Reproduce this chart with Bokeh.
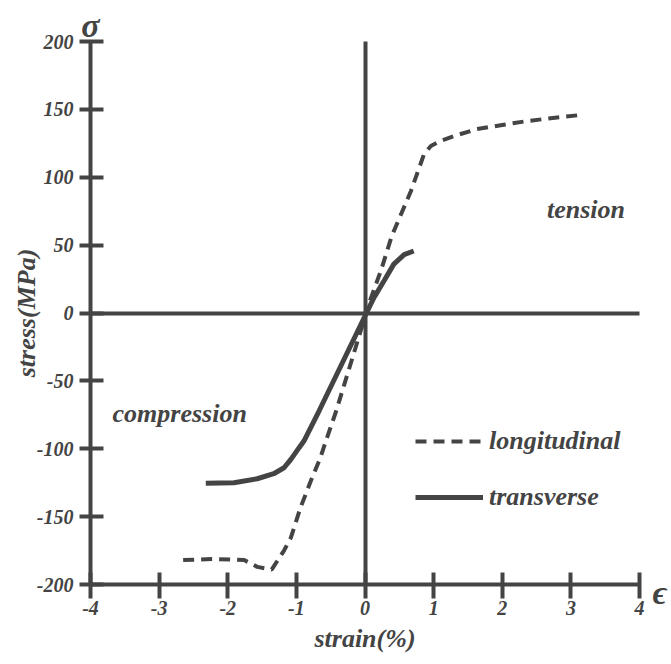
from bokeh.plotting import figure
from bokeh.models import Range1d, Label, Legend, LegendItem, FixedTicker, LinearAxis
from bokeh.embed import file_html
from bokeh.resources import INLINE

# ---- data ----
long_strain = [-2.65, -2.2, -1.76, -1.57, -1.36, -1.18, -1.08, -0.94, -0.79, -0.65, -0.57, -0.42,
               -0.13, 0.06, 0.23, 0.39, 0.67, 0.86, 0.96, 1.10, 1.30, 1.63, 2.0, 2.36, 2.8, 3.15]
long_stress = [-182, -181.2, -182, -187, -189, -175, -165.5, -143.4, -123.8, -106.6, -94.3, -72.2,
               -24.3, 7.4, 30.9, 56.7, 89.9, 117, 123, 126.7, 130.4, 135.5, 138.5, 141.4, 144, 145.9]
trans_strain = [-2.32, -1.91, -1.57, -1.33, -1.18, -1.08, -0.96, -0.89, -0.67, -0.4, 0.0,
                0.13, 0.28, 0.42, 0.57, 0.71]
trans_stress = [-125.4, -125, -122.1, -118.4, -114, -107.8, -99.2, -94.3, -72.2, -44, -2.2,
                11.3, 24, 36, 43, 45.7]
x_ticks = [-4, -3, -2, -1, 0, 1, 2, 3, 4]
y_ticks = [-200, -150, -100, -50, 0, 50, 100, 150, 200]
x_lim = (-4, 4)
y_lim = (-200, 200)

C = "#444444"
FONT = "Liberation Serif"
STYLE = "bold italic"
W, H = 671, 664

# frame covers the whole canvas; axes are pinned at fixed data locations
px_x = (W - 90 - 32) / (x_lim[1] - x_lim[0])
px_y = (H - 41 - 80) / (y_lim[1] - y_lim[0])
xr = Range1d(x_lim[0] - 90 / px_x, x_lim[1] + 32 / px_x)
yr = Range1d(y_lim[0] - 80 / px_y, y_lim[1] + 41 / px_y)

p = figure(width=W, height=H, output_backend="svg", toolbar_location=None,
           x_range=xr, y_range=yr,
           min_border_left=0, min_border_right=0, min_border_top=0, min_border_bottom=0)
p.outline_line_color = None
p.xgrid.visible = False
p.ygrid.visible = False
p.background_fill_color = "white"
p.border_fill_color = "white"


def style_axis(ax, ticks):
    ax.ticker = FixedTicker(ticks=ticks)
    ax.major_label_overrides = {t: str(t) for t in ticks}
    ax.minor_tick_line_color = None
    ax.axis_line_color = C
    ax.axis_line_width = 4
    ax.major_tick_line_color = C
    ax.major_tick_line_width = 4
    ax.major_label_text_font = FONT
    ax.major_label_text_font_style = STYLE
    ax.major_label_text_font_size = "20px"
    ax.major_label_text_color = C
    ax.axis_label_text_font = FONT
    ax.axis_label_text_font_style = STYLE
    ax.axis_label_text_font_size = "26px"
    ax.axis_label_text_color = C


xa = p.xaxis[0]
ya = p.yaxis[0]
style_axis(xa, x_ticks)
style_axis(ya, y_ticks)
ya.fixed_location = x_lim[0]
ya.bounds = y_lim
xa.fixed_location = y_lim[0]
xa.bounds = x_lim

ya.major_tick_in = 13
ya.major_tick_out = 11
ya.major_label_standoff = 6
ya.axis_label = "stress(MPa)"
ya.axis_label_standoff = -7
xa.major_tick_in = 12
xa.major_tick_out = 14
xa.major_label_standoff = 2
xa.axis_label = "strain(%)"
xa.axis_label_standoff = 6

# centre cross (axes without ticks)
vc = LinearAxis(fixed_location=0, bounds=y_lim, ticker=FixedTicker(ticks=[]),
                axis_line_color=C, axis_line_width=4, major_tick_line_color=None,
                minor_tick_line_color=None)
hc = LinearAxis(fixed_location=0, bounds=x_lim, ticker=FixedTicker(ticks=[]),
                axis_line_color=C, axis_line_width=4, major_tick_line_color=None,
                minor_tick_line_color=None)
p.add_layout(vc, "left")
p.add_layout(hc, "below")

r_long = p.line(long_strain, long_stress, line_color=C, line_width=4, line_dash="11 7")
r_trans = p.line(trans_strain, trans_stress, line_color=C, line_width=5)

legend = Legend(items=[LegendItem(label="longitudinal", renderers=[r_long]),
                       LegendItem(label="transverse", renderers=[r_trans])],
                location=(415, 152), padding=0, spacing=26, glyph_width=68, glyph_height=30,
                label_height=30, label_standoff=6, border_line_alpha=0, background_fill_alpha=0,
                label_text_font=FONT, label_text_font_style=STYLE,
                label_text_font_size="26px", label_text_color=C)
p.add_layout(legend)


def lab(x, y, t, size, align="center", baseline="middle", xo=0, yo=0):
    p.add_layout(Label(x=x, y=y, text=t, text_font=FONT, text_font_style=STYLE,
                       text_font_size=size, text_color=C, text_align=align,
                       text_baseline=baseline, x_offset=xo, y_offset=yo))


lab(3.22, 76, "tension", "26px")
lab(-2.70, -74, "compression", "26px")
lab(x_lim[0], y_lim[1], "σ", "34px", baseline="alphabetic", yo=16)
lab(x_lim[1], y_lim[0], "ϵ", "34px", align="left", baseline="alphabetic", xo=13, yo=-8)

open("out.html", "w").write(file_html(p, INLINE))
